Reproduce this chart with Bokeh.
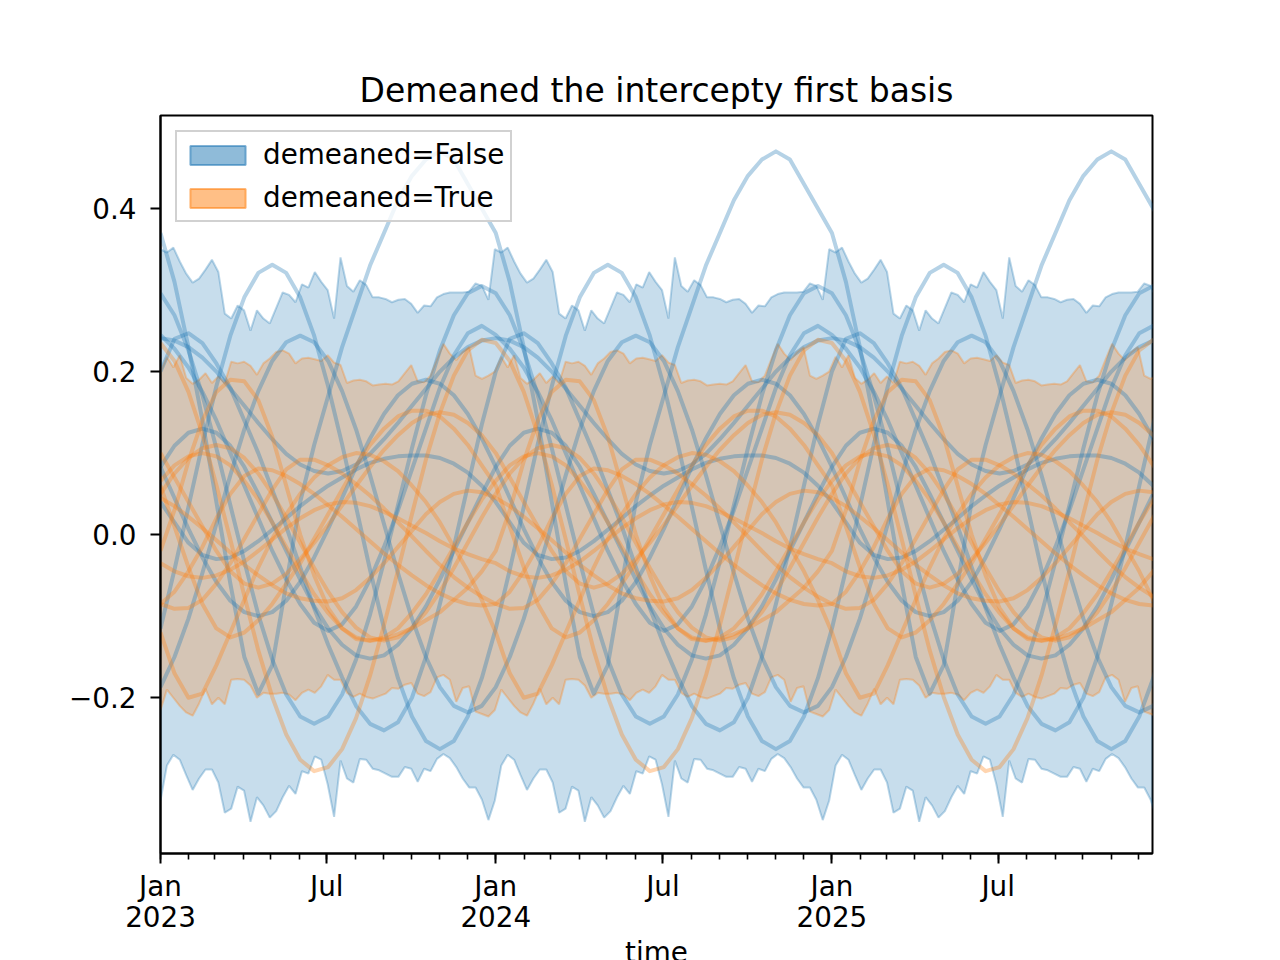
import pandas as pd
from bokeh.plotting import figure
from bokeh.models import (FixedTicker, Legend, LegendItem, Range1d, CustomJSTickFormatter,
                          DatetimeAxis)
from bokeh.embed import file_html
from bokeh.resources import INLINE

# ---- one year of weekly HDI band edges (the pattern repeats every year) ----
blue_upper = [0.350, 0.346, 0.352, 0.335, 0.320, 0.309, 0.314, 0.325, 0.337, 0.322,
              0.271, 0.265, 0.281, 0.275, 0.250, 0.275, 0.265, 0.259, 0.278, 0.297,
              0.294, 0.285, 0.307, 0.303, 0.322, 0.310, 0.300, 0.265, 0.340, 0.305,
              0.298, 0.312, 0.306, 0.291, 0.291, 0.289, 0.285, 0.288, 0.289, 0.283,
              0.272, 0.281, 0.280, 0.291, 0.295, 0.297, 0.297, 0.297, 0.298, 0.308,
              0.305, 0.288]
blue_lower = [-0.326, -0.283, -0.270, -0.276, -0.295, -0.313, -0.299, -0.288, -0.288, -0.304,
              -0.341, -0.336, -0.309, -0.314, -0.352, -0.322, -0.332, -0.347, -0.339, -0.322,
              -0.308, -0.318, -0.290, -0.293, -0.272, -0.276, -0.306, -0.346, -0.277, -0.299,
              -0.304, -0.275, -0.276, -0.287, -0.289, -0.293, -0.297, -0.297, -0.285, -0.287,
              -0.303, -0.287, -0.290, -0.275, -0.269, -0.274, -0.285, -0.299, -0.310, -0.310,
              -0.325, -0.350]
orange_upper = [0.200, 0.218, 0.205, 0.220, 0.192, 0.185, 0.190, 0.198, 0.186, 0.194,
                0.186, 0.212, 0.210, 0.212, 0.207, 0.196, 0.210, 0.216, 0.224, 0.226,
                0.222, 0.210, 0.216, 0.217, 0.215, 0.213, 0.220, 0.211, 0.208, 0.186,
                0.189, 0.190, 0.188, 0.183, 0.184, 0.185, 0.184, 0.188, 0.198, 0.208,
                0.188, 0.187, 0.195, 0.215, 0.234, 0.222, 0.214, 0.224, 0.230, 0.195,
                0.191, 0.195]
orange_lower = [-0.215, -0.190, -0.200, -0.210, -0.218, -0.222, -0.207, -0.189, -0.208, -0.200,
                -0.208, -0.178, -0.177, -0.178, -0.185, -0.200, -0.194, -0.195, -0.195, -0.194,
                -0.196, -0.203, -0.194, -0.190, -0.194, -0.186, -0.172, -0.178, -0.178, -0.194,
                -0.199, -0.195, -0.199, -0.201, -0.198, -0.195, -0.188, -0.189, -0.184, -0.182,
                -0.195, -0.198, -0.193, -0.175, -0.172, -0.178, -0.205, -0.188, -0.186, -0.217,
                -0.220, -0.223]

# ---- sample curves, one year at half-month steps (k = 0..24), repeating yearly ----
blue_1 = [0.370, 0.310, 0.230, 0.140, 0.040, -0.060, -0.150, -0.195, -0.160, -0.060,
          0.040, 0.110, 0.170, 0.230, 0.280, 0.330, 0.370, 0.410, 0.440, 0.460,
          0.470, 0.460, 0.430, 0.400, 0.370]
blue_2 = [-0.115, -0.043, 0.034, 0.111, 0.182, 0.244, 0.291, 0.321, 0.331, 0.321,
          0.291, 0.244, 0.182, 0.111, 0.034, -0.043, -0.115, -0.176, -0.223, -0.253,
          -0.263, -0.253, -0.223, -0.176, -0.115]
blue_3 = [0.296, 0.269, 0.226, 0.171, 0.106, 0.036, -0.033, -0.098, -0.153, -0.196,
          -0.223, -0.232, -0.223, -0.196, -0.153, -0.098, -0.033, 0.036, 0.106, 0.171,
          0.226, 0.269, 0.296, 0.305, 0.296]
blue_4 = [0.245, 0.228, 0.205, 0.175, 0.140, 0.100, 0.060, 0.020, -0.020, -0.055,
          -0.085, -0.108, -0.118, -0.110, -0.088, -0.055, -0.015, 0.030, 0.080, 0.130,
          0.180, 0.220, 0.247, 0.256, 0.245]
blue_5 = [0.200, 0.240, 0.247, 0.235, 0.210, 0.180, 0.140, 0.100, 0.055, 0.010,
          -0.040, -0.090, -0.135, -0.175, -0.210, -0.232, -0.240, -0.230, -0.200, -0.150,
          -0.085, -0.015, 0.060, 0.135, 0.200]
blue_6 = [-0.187, -0.150, -0.103, -0.047, 0.013, 0.073, 0.129, 0.176, 0.213, 0.236,
          0.244, 0.236, 0.213, 0.176, 0.129, 0.073, 0.013, -0.047, -0.103, -0.150,
          -0.187, -0.210, -0.218, -0.210, -0.187]
blue_7 = [0.083, 0.045, 0.007, -0.028, -0.058, -0.081, -0.095, -0.100, -0.095, -0.081,
          -0.058, -0.028, 0.007, 0.045, 0.083, 0.118, 0.148, 0.171, 0.185, 0.190,
          0.185, 0.171, 0.148, 0.118, 0.083]
blue_8 = [0.083, 0.109, 0.125, 0.130, 0.125, 0.109, 0.083, 0.050, 0.015, -0.020,
          -0.055, -0.088, -0.115, -0.135, -0.148, -0.152, -0.148, -0.135, -0.115, -0.088,
          -0.055, -0.020, 0.015, 0.050, 0.083]
blue_9 = [0.040, 0.015, -0.010, -0.025, -0.030, -0.028, -0.020, -0.008, 0.006, 0.020,
          0.035, 0.048, 0.060, 0.070, 0.080, 0.088, 0.093, 0.096, 0.097, 0.097,
          0.094, 0.087, 0.076, 0.060, 0.040]
blue_10 = [0.241, 0.238, 0.230, 0.217, 0.200, 0.179, 0.158, 0.137, 0.117, 0.099,
           0.086, 0.078, 0.075, 0.078, 0.086, 0.099, 0.117, 0.137, 0.158, 0.179,
           0.200, 0.217, 0.230, 0.238, 0.241]

orange_1 = [0.235, 0.213, 0.175, 0.123, 0.061, -0.006, -0.075, -0.142, -0.199, -0.245,
            -0.276, -0.290, -0.285, -0.263, -0.225, -0.173, -0.111, -0.044, 0.025, 0.092,
            0.149, 0.195, 0.226, 0.239, 0.235]
orange_2 = [-0.020, 0.030, 0.090, 0.140, 0.175, 0.190, 0.188, 0.165, 0.120, 0.060,
            0.000, -0.050, -0.090, -0.115, -0.128, -0.130, -0.128, -0.122, -0.115, -0.105,
            -0.095, -0.080, -0.065, -0.045, -0.020]
orange_3 = [0.060, 0.010, -0.040, -0.085, -0.115, -0.126, -0.120, -0.105, -0.085, -0.060,
            -0.035, -0.005, 0.025, 0.055, 0.085, 0.110, 0.130, 0.145, 0.152, 0.152,
            0.145, 0.130, 0.110, 0.085, 0.060]
orange_4 = [0.050, 0.075, 0.094, 0.106, 0.110, 0.106, 0.094, 0.075, 0.050, 0.021,
            -0.010, -0.041, -0.070, -0.095, -0.114, -0.126, -0.130, -0.126, -0.114, -0.095,
            -0.070, -0.041, -0.010, 0.021, 0.050]
orange_5 = [-0.085, -0.091, -0.090, -0.080, -0.060, -0.035, -0.005, 0.025, 0.055, 0.080,
            0.092, 0.092, 0.085, 0.075, 0.062, 0.048, 0.032, 0.015, -0.002, -0.020,
            -0.037, -0.052, -0.065, -0.076, -0.085]
orange_6 = [-0.085, -0.070, -0.045, -0.015, 0.020, 0.050, 0.072, 0.081, 0.079, 0.072,
            0.062, 0.050, 0.036, 0.022, 0.007, -0.008, -0.023, -0.037, -0.050, -0.062,
            -0.072, -0.080, -0.085, -0.087, -0.085]
orange_7 = [0.045, 0.035, 0.022, 0.008, -0.007, -0.022, -0.037, -0.050, -0.062, -0.072,
            -0.078, -0.081, -0.082, -0.078, -0.068, -0.053, -0.035, -0.015, 0.005, 0.025,
            0.040, 0.050, 0.054, 0.052, 0.045]
orange_8 = [-0.035, -0.045, -0.051, -0.053, -0.050, -0.043, -0.033, -0.020, -0.006, 0.008,
            0.020, 0.030, 0.037, 0.040, 0.039, 0.035, 0.028, 0.020, 0.011, 0.002,
            -0.008, -0.017, -0.024, -0.030, -0.035]
orange_9 = [0.066, 0.085, 0.096, 0.100, 0.096, 0.085, 0.066, 0.043, 0.015, -0.015,
            -0.045, -0.073, -0.096, -0.115, -0.126, -0.130, -0.126, -0.115, -0.096, -0.073,
            -0.045, -0.015, 0.015, 0.043, 0.066]
orange_10 = [0.100, 0.070, 0.040, 0.010, -0.020, -0.045, -0.060, -0.065, -0.060, -0.048,
             -0.030, -0.010, 0.012, 0.036, 0.060, 0.083, 0.104, 0.122, 0.137, 0.147,
             0.150, 0.147, 0.137, 0.122, 0.100]
orange_11 = [-0.120, -0.170, -0.200, -0.195, -0.160, -0.120, -0.080, -0.040, -0.005, 0.025,
             0.050, 0.070, 0.085, 0.095, 0.100, 0.098, 0.090, 0.078, 0.060, 0.040,
             0.015, -0.015, -0.045, -0.080, -0.120]

blue_curves = [blue_1, blue_2, blue_3, blue_4, blue_5, blue_6, blue_7, blue_8, blue_9, blue_10]
orange_curves = [orange_1, orange_2, orange_3, orange_4, orange_5, orange_6, orange_7,
                 orange_8, orange_9, orange_10, orange_11]

years = [2023, 2024, 2025]
x_start = pd.Timestamp("2023-01-01")
x_end = pd.Timestamp("2025-12-16")
y_start, y_end = -0.391, 0.514
y_ticks = [-0.2, 0.0, 0.2, 0.4]

BLUE = "#1f77b4"
ORANGE = "#ff7f0e"
FONT = "DejaVu Sans"
FS = "27.8px"

band_x = pd.date_range(x_start, periods=3 * 52 + 2, freq="7D")
n_band = len(band_x)


def tile(vals, n):
    out = []
    while len(out) < n:
        out.extend(vals)
    return out[:n]


curve_x = []
for yr in years:
    y0 = pd.Timestamp(f"{yr}-01-01")
    ndays = (pd.Timestamp(f"{yr + 1}-01-01") - y0).days
    for k in range(24):
        curve_x.append(y0 + pd.Timedelta(days=ndays * k / 24))
curve_x.append(pd.Timestamp(f"{years[-1] + 1}-01-01"))


def curve_y(vals):
    return vals[:24] * len(years) + [vals[24]]


p = figure(frame_width=992, frame_height=738,
           x_axis_type=None, output_backend="svg", toolbar_location=None,
           x_range=Range1d(x_start, x_end), y_range=Range1d(y_start, y_end),
           min_border_left=160, min_border_right=112, min_border_top=115, min_border_bottom=100)

# bands
p.varea(x=band_x, y1=tile(blue_lower, n_band), y2=tile(blue_upper, n_band),
        fill_color=BLUE, fill_alpha=0.25)
p.line(band_x, tile(blue_upper, n_band), line_color=BLUE, line_alpha=0.3, line_width=2)
p.line(band_x, tile(blue_lower, n_band), line_color=BLUE, line_alpha=0.3, line_width=2)
p.varea(x=band_x, y1=tile(orange_lower, n_band), y2=tile(orange_upper, n_band),
        fill_color=ORANGE, fill_alpha=0.25)
p.line(band_x, tile(orange_upper, n_band), line_color=ORANGE, line_alpha=0.3, line_width=2)
p.line(band_x, tile(orange_lower, n_band), line_color=ORANGE, line_alpha=0.3, line_width=2)

for c in blue_curves:
    p.line(curve_x, curve_y(c), line_color=BLUE, line_alpha=0.33, line_width=4,
           line_join="round")
for c in orange_curves:
    p.line(curve_x, curve_y(c), line_color=ORANGE, line_alpha=0.33, line_width=4,
           line_join="round")

# legend swatches (quads placed outside the visible range)
off_l = [pd.Timestamp("2020-01-01")]
off_r = [pd.Timestamp("2020-02-01")]
leg_b = p.quad(left=off_l, right=off_r, top=[0.1], bottom=[0.0], fill_color=BLUE, fill_alpha=0.5,
               line_color=BLUE, line_alpha=0.55, line_width=2)
leg_o = p.quad(left=off_l, right=off_r, top=[0.1], bottom=[0.0], fill_color=ORANGE, fill_alpha=0.5,
               line_color=ORANGE, line_alpha=0.55, line_width=2)
legend = Legend(items=[LegendItem(label="demeaned=False", renderers=[leg_b]),
                       LegendItem(label="demeaned=True", renderers=[leg_o])],
                location="top_left", margin=15, padding=6, spacing=10,
                glyph_width=69, glyph_height=24, label_standoff=11,
                label_text_font=FONT, label_text_font_size=FS, label_text_color="black",
                border_line_color="#cccccc", border_line_width=2, border_line_alpha=0.9,
                background_fill_alpha=0.8)
p.add_layout(legend, "center")

# title
p.title.text = "Demeaned the intercepty first basis"
p.title.align = "center"
p.title.text_font = FONT
p.title.text_font_size = "33px"
p.title.text_font_style = "normal"
p.title.text_color = "black"
p.title.standoff = 12

# x axes: month names on the first, years (and the axis name) on the second
month_ticks = []
major_ticks = []
jan_ticks = []
for yr in years:
    for m in range(1, 13):
        t = pd.Timestamp(f"{yr}-{m:02d}-01").value // 10**6
        if m in (1, 7):
            major_ticks.append(t)
        else:
            month_ticks.append(t)
        if m == 1:
            jan_ticks.append(t)
month_ticks.append(pd.Timestamp("2026-01-01").value // 10**6)

xa = DatetimeAxis(ticker=FixedTicker(ticks=major_ticks, minor_ticks=major_ticks + month_ticks))
xa.formatter = CustomJSTickFormatter(code="""
    const m = new Date(tick).getUTCMonth();
    return m == 0 ? "Jan" : (m == 6 ? "Jul" : "");
""")
xa2 = DatetimeAxis(ticker=FixedTicker(ticks=jan_ticks, minor_ticks=[]))
xa2.formatter = CustomJSTickFormatter(code="""
    return String(new Date(tick).getUTCFullYear());
""")
xa2.axis_label = "time"
p.add_layout(xa, "below")
p.add_layout(xa2, "below")

p.yaxis.ticker = FixedTicker(ticks=y_ticks, minor_ticks=[])
p.yaxis.formatter = CustomJSTickFormatter(code="""
    return tick < 0 ? "\\u2212" + (-tick).toFixed(1) : tick.toFixed(1);
""")

for ax in (xa, xa2, p.yaxis[0]):
    ax.axis_line_width = 2
    ax.axis_line_color = "black"
    ax.major_tick_line_width = 2
    ax.minor_tick_line_width = 1.6
    ax.major_tick_in = 0
    ax.major_tick_out = 10
    ax.minor_tick_in = 0
    ax.minor_tick_out = 6
    ax.major_label_text_font = FONT
    ax.major_label_text_font_size = FS
    ax.major_label_text_color = "black"
    ax.axis_label_text_font = FONT
    ax.axis_label_text_font_size = FS
    ax.axis_label_text_font_style = "normal"
    ax.axis_label_text_color = "black"

xa.major_label_standoff = 6
p.yaxis.major_label_standoff = 14
xa2.axis_line_color = None
xa2.major_tick_line_color = None
xa2.minor_tick_line_color = None
xa2.major_tick_out = 0
xa2.minor_tick_out = 0
xa2.major_label_standoff = 0
xa2.axis_label_standoff = 6

p.xgrid.visible = False
p.ygrid.visible = False
p.outline_line_color = "black"
p.outline_line_width = 2
p.outline_line_alpha = 1
p.background_fill_color = "white"
p.border_fill_color = "white"

open("out.html", "w").write(file_html(p, INLINE))
